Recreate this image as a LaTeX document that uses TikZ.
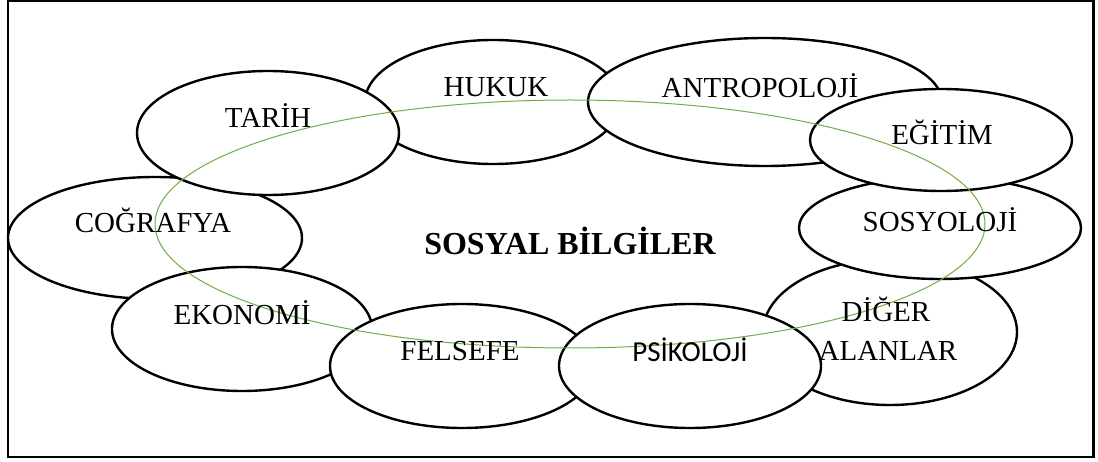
\documentclass[tikz,border=0pt]{standalone}
\usepackage{fontspec}
\setmainfont{Liberation Serif}
\newfontfamily\calfont{Carlito}
\usetikzlibrary{shapes.geometric}
\tikzset{
  topic/.style={ellipse, draw=black, fill=white, line width=2.4pt, inner sep=0pt},
  lbl/.style={anchor=base, inner sep=0pt, font=\fontsize{29}{34}\selectfont},
}
\begin{document}
\begin{tikzpicture}[x=1pt,y=-1pt]
\useasboundingbox (0,0) rectangle (1098,462);
\draw[line width=2.4pt] (7.7,0.9) rectangle (1093.5,457);
% ellipses, bottom to top
\node[topic, minimum width=294pt, minimum height=122pt] (cog) at (155,238) {};
\node[topic, minimum width=260pt, minimum height=124pt] (eko) at (242,329) {};
\node[topic, minimum width=264pt, minimum height=124pt] (fel) at (462,366) {};
\node[topic, minimum width=256pt, minimum height=124pt] (huk) at (493,102) {};
\node[topic, minimum width=262pt, minimum height=124pt] (tar) at (268,133) {};
\node[topic, minimum width=354pt, minimum height=128pt] (ant) at (765,102) {};
\node[topic, minimum width=254pt, minimum height=146pt] (dig) at (890,332) {};
\node[topic, minimum width=282pt, minimum height=102pt] (sos) at (940,228) {};
\node[topic, minimum width=262pt, minimum height=102pt] (egi) at (941,140) {};
\node[topic, minimum width=262pt, minimum height=124pt] (psi) at (690,366) {};
% green ring
\definecolor{ringgreen}{RGB}{112,173,71}
\node[ellipse, draw=ringgreen, line width=1pt, minimum width=830pt, minimum height=248pt, inner sep=0pt] (ring) at (570,224) {};
% labels
\node[lbl] (tTar) at (268,128) {TARİH};
\node[lbl] (tHuk) at (496,97) {HUKUK};
\node[lbl] (tAnt) at (760,98) {ANTROPOLOJİ};
\node[lbl] (tEgi) at (942,145) {EĞİTİM};
\node[lbl] (tSos) at (940,232) {SOSYOLOJİ};
\node[lbl] (tCog) at (153,233) {COĞRAFYA};
\node[lbl] (tEko) at (242,325) {EKONOMİ};
\node[lbl] (tFel) at (460,360) {FELSEFE};
\node[lbl, font=\calfont\fontsize{29}{34}\selectfont] (tPsi) at (690,362) {PSİKOLOJİ};
\node[lbl] (tDig1) at (886,322) {DİĞER};
\node[lbl] (tDig2) at (888,360) {ALANLAR};
\node[anchor=base, inner sep=0pt, font=\bfseries\fontsize{32}{38}\selectfont] (title) at (570,255) {SOSYAL BİLGİLER};
\end{tikzpicture}
\end{document}
